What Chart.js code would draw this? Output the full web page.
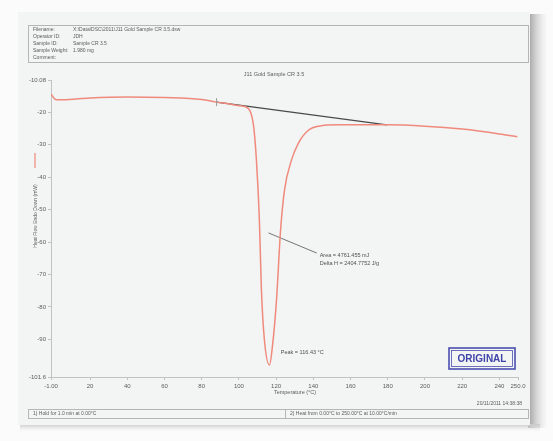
<!DOCTYPE html>
<html>
<head>
<meta charset="utf-8">
<script src="https://cdn.jsdelivr.net/npm/chart.js@4/dist/chart.umd.min.js"></script>
<style>
  html, body { margin: 0; padding: 0; background: #fbfbfb; }
  #wrap { width: 553px; height: 441px; position: relative; }
</style>
</head>
<body>
<div id="wrap"><canvas id="c" width="553" height="441"></canvas></div>
<script>
// DSC scan: heat flow vs temperature
const temperature = [-1, 0.5, 2, 5, 20, 40, 60, 80, 88, 95, 100, 105, 107.8, 109.4, 111, 112.1, 113.7, 116.43,
  118.1, 120.2, 122.4, 124.5, 128.3, 132, 137.5, 142.9, 153.6, 180, 200, 220, 240, 249.6];
const heatFlow = [-14.4, -15.6, -16.2, -16.2, -15.6, -15.3, -15.5, -16.1, -16.9, -17.5, -18.0, -18.8, -23.9, -34.7, -53.2, -74.8, -90.2, -97.9,
  -91.7, -77.9, -56.3, -44.0, -34.7, -29.5, -25.5, -24.3, -23.9, -23.9, -24.3, -25.2, -26.7, -27.6];

// integration baseline (start/end temperature and heat flow)
const baselineT = [88, 179.5];
const baselineHF = [-16.9, -23.9];

// leader line from peak area to result text
const leaderT = [115.9, 141.8];
const leaderHF = [-57.2, -63.4];

const xTicks = [-1, 20, 40, 60, 80, 100, 120, 140, 160, 180, 200, 220, 240, 250];
const xTickLabels = ['-1.00', '20', '40', '60', '80', '100', '120', '140', '160', '180', '200', '220', '240', '250.0'];
const yTicks = [-10.08, -20, -30, -40, -50, -60, -70, -80, -90, -101.6];
const yTickLabels = ['-10.08', '-20', '-30', '-40', '-50', '-60', '-70', '-80', '-90', '-101.6'];

const headerLabels = ['Filename:', 'Operator ID:', 'Sample ID:', 'Sample Weight:', 'Comment:'];
const headerValues = ['X:\\Data\\DSC\\2011\\J11 Gold Sample CR 3.5.dsw', 'JDH', 'Sample CR 3.5', '1.980 mg', ''];

const pts = (xs, ys) => xs.map((x, i) => ({ x: x, y: ys[i] }));

const FONT = '"Liberation Sans", Arial, sans-serif';
const TXT = '#5c5c5c';

const decor = {
  id: 'decor',
  beforeDraw(chart) {
    const ctx = chart.ctx;
    ctx.save();
    ctx.fillStyle = '#fbfbfb';
    ctx.fillRect(0, 0, 553, 441);
    // page shadow on the right and bottom
    const g = ctx.createLinearGradient(528, 0, 548, 0);
    g.addColorStop(0, '#9c9c9c');
    g.addColorStop(1, 'rgba(220,220,220,0)');
    ctx.fillStyle = g;
    ctx.fillRect(528, 14, 20, 414);
    const gb = ctx.createLinearGradient(0, 424, 0, 432);
    gb.addColorStop(0, '#c8c8c8');
    gb.addColorStop(1, 'rgba(240,240,240,0)');
    ctx.fillStyle = gb;
    ctx.fillRect(20, 424, 520, 8);
    // page
    ctx.fillStyle = '#f3f4f4';
    ctx.fillRect(18, 12, 512, 413);
    ctx.restore();
  },
  afterDraw(chart) {
    const ctx = chart.ctx;
    const xs = chart.scales.x, ys = chart.scales.y;
    ctx.save();
    // header box
    ctx.strokeStyle = '#b5b5b5';
    ctx.lineWidth = 1;
    ctx.strokeRect(28.5, 25.5, 500, 37);
    ctx.font = '5px ' + FONT;
    ctx.fillStyle = TXT;
    ctx.textBaseline = 'middle';
    headerLabels.forEach((t, i) => {
      ctx.textAlign = 'left';
      ctx.fillText(t, 33, 30 + i * 7);
      ctx.fillText(headerValues[i], 73, 30 + i * 7);
    });
    // title
    ctx.font = '5.5px ' + FONT;
    ctx.textAlign = 'center';
    ctx.fillText('J11 Gold Sample CR 3.5', 274, 74);

    // x axis caption
    ctx.fillText('Temperature (\u00b0C)', 295, 392);

    // legend swatch and rotated axis caption
    ctx.strokeStyle = '#f09a8e';
    ctx.lineWidth = 1.4;
    ctx.beginPath();
    ctx.moveTo(35, 153); ctx.lineTo(35, 168);
    ctx.stroke();
    ctx.save();
    ctx.translate(36, 216);
    ctx.rotate(-Math.PI / 2);
    ctx.font = '5px ' + FONT;
    ctx.fillStyle = TXT;
    ctx.textAlign = 'center';
    ctx.fillText('Heat Flow Endo Down (mW)', 0, 0);
    ctx.restore();

    // baseline start marker
    ctx.strokeStyle = '#999';
    ctx.lineWidth = 1;
    const bx = xs.getPixelForValue(baselineT[0]);
    const by = ys.getPixelForValue(baselineHF[0]);
    ctx.beginPath();
    ctx.moveTo(bx, by - 4); ctx.lineTo(bx, by + 4);
    ctx.stroke();

    // result text
    ctx.font = '5.5px ' + FONT;
    ctx.fillStyle = '#505050';
    ctx.textAlign = 'left';
    const tx = xs.getPixelForValue(leaderT[1]) + 3;
    const ty = ys.getPixelForValue(leaderHF[1]);
    ctx.fillText('Area = 4761.455 mJ', tx, ty + 2);
    ctx.fillText('Delta H = 2404.7752 J/g', tx, ty + 10);
    ctx.fillText('Peak = 116.43 \u00b0C', xs.getPixelForValue(122.5), ys.getPixelForValue(-93.9));

    // stamp
    ctx.strokeStyle = '#4b4fb0';
    ctx.lineWidth = 1.6;
    ctx.strokeRect(449, 348, 66, 21);
    ctx.lineWidth = 0.8;
    ctx.strokeRect(451.5, 350.5, 61, 16);
    ctx.fillStyle = '#3f44a8';
    ctx.font = 'bold 10px ' + FONT;
    ctx.textAlign = 'center';
    ctx.fillText('ORIGINAL', 482, 359);

    // date and footer
    ctx.font = '5px ' + FONT;
    ctx.fillStyle = TXT;
    ctx.textAlign = 'right';
    ctx.fillText('20/11/2011 14:38:38', 522, 404);
    ctx.strokeStyle = '#b5b5b5';
    ctx.lineWidth = 1;
    ctx.strokeRect(28.5, 409.5, 500, 9);
    ctx.beginPath();
    ctx.moveTo(285.5, 409.5); ctx.lineTo(285.5, 418.5);
    ctx.stroke();
    ctx.textAlign = 'left';
    ctx.fillText('1) Hold for 1.0 min at 0.00\u00b0C', 33, 414);
    ctx.fillText('2) Heat from 0.00\u00b0C to 250.00\u00b0C at 10.00\u00b0C/min', 290, 414);
    ctx.restore();
  }
};

new Chart(document.getElementById('c'), {
  type: 'line',
  data: {
    datasets: [
      {
        data: pts(temperature, heatFlow),
        borderColor: '#f08a7c',
        borderWidth: 1.5,
        pointRadius: 0,
        cubicInterpolationMode: 'monotone'
      },
      {
        data: pts(baselineT, baselineHF),
        borderColor: '#4a4a4a',
        borderWidth: 1.3,
        pointRadius: 0
      },
      {
        data: pts(leaderT, leaderHF),
        borderColor: '#666',
        borderWidth: 0.9,
        pointRadius: 0
      }
    ]
  },
  options: {
    responsive: false,
    animation: false,
    layout: { padding: { left: 0, right: 35, top: 80, bottom: 0 } },
    plugins: { legend: { display: false }, tooltip: { enabled: false } },
    scales: {
      x: {
        type: 'linear',
        min: xTicks[0],
        max: xTicks[xTicks.length - 1],
        afterBuildTicks: s => { s.ticks = xTicks.map(v => ({ value: v })); },
        afterFit: s => { s.height = 64; },
        grid: { display: true, drawOnChartArea: false, tickLength: 3, color: '#c2c2c2' },
        border: { color: '#c2c2c2' },
        ticks: {
          autoSkip: false, maxRotation: 0, padding: 3,
          color: TXT, font: { size: 6, family: FONT },
          callback: (v, i) => xTickLabels[i]
        }
      },
      y: {
        type: 'linear',
        min: yTicks[yTicks.length - 1],
        max: yTicks[0],
        afterBuildTicks: s => { s.ticks = yTicks.map(v => ({ value: v })); },
        afterFit: s => { s.width = 51; },
        grid: { display: true, drawOnChartArea: false, tickLength: 3, color: '#c2c2c2' },
        border: { color: '#c2c2c2' },
        ticks: {
          autoSkip: false, padding: 2,
          color: TXT, font: { size: 6, family: FONT },
          callback: (v, i) => yTickLabels[i]
        }
      }
    }
  },
  plugins: [decor]
});
</script>
</body>
</html>
